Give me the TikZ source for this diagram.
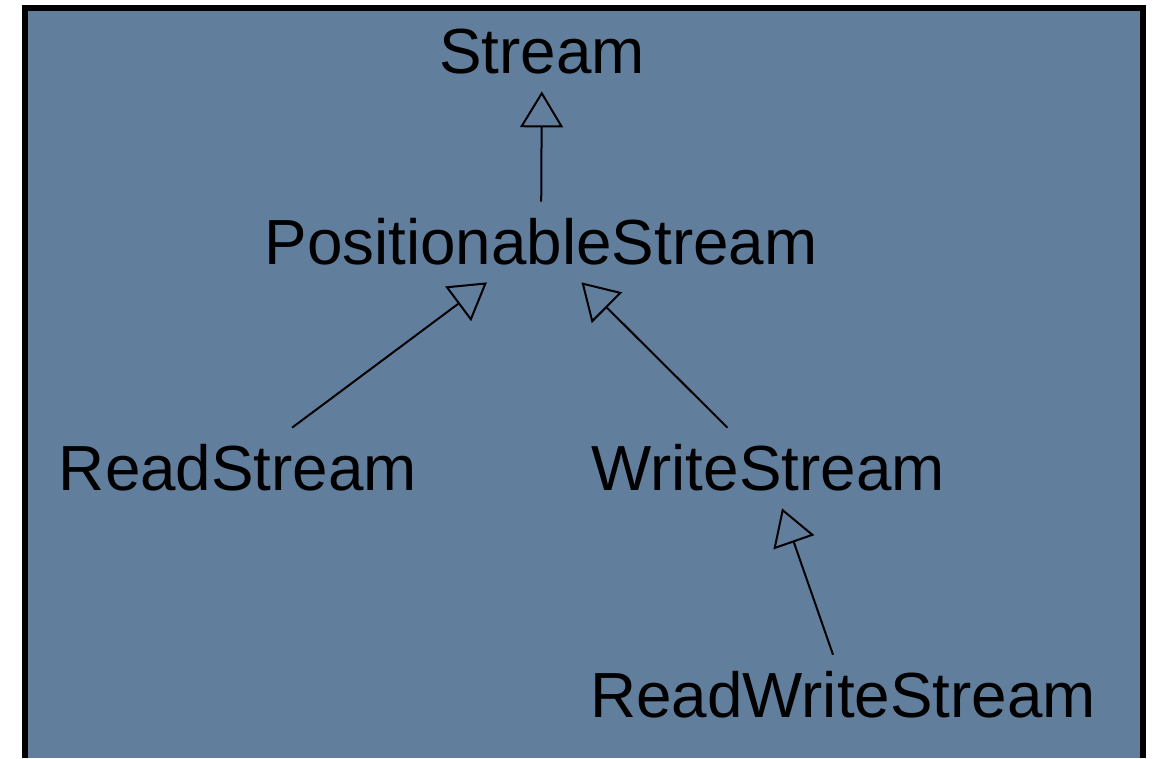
\documentclass[tikz,border=0pt]{standalone}
\usepackage{fontspec}
\setmainfont{Liberation Sans}
\usepackage{tikz}
\usetikzlibrary{arrows.meta}
\definecolor{slate}{RGB}{98,126,157}

\begin{document}
\begin{tikzpicture}[x=0.02cm,y=-0.02cm,
 cls/.style={inner sep=0pt,minimum height=1.6cm,text height=0.9cm,text depth=0pt,font=\fontsize{36.3}{40}\selectfont},
 inh/.style={-{Triangle[open,length=0.72cm,width=0.86cm]},line width=0.04cm}]
 \useasboundingbox (0,0) rectangle (1162,758);
 \fill[slate] (22,5) rectangle (1145,758);
 \draw[line width=0.12cm] (25,758) -- (25,8) -- (1142.5,8) -- (1142.5,758);

 \node[cls] (s) at (542,51) {Stream};
 \node[cls] (p) at (541,242) {PositionableStream};
 \node[cls] (r) at (238,468) {ReadStream};
 \node[cls] (w) at (768,468) {WriteStream};
 \node[cls] (rw) at (843,695) {ReadWriteStream};

 \draw[inh] (p) -- (s);
 \draw[inh] (r) -- (p);
 \draw[inh] (w) -- (p);
 \draw[inh] (rw.north west -| 833,0) -- (w);
\end{tikzpicture}
\end{document}
